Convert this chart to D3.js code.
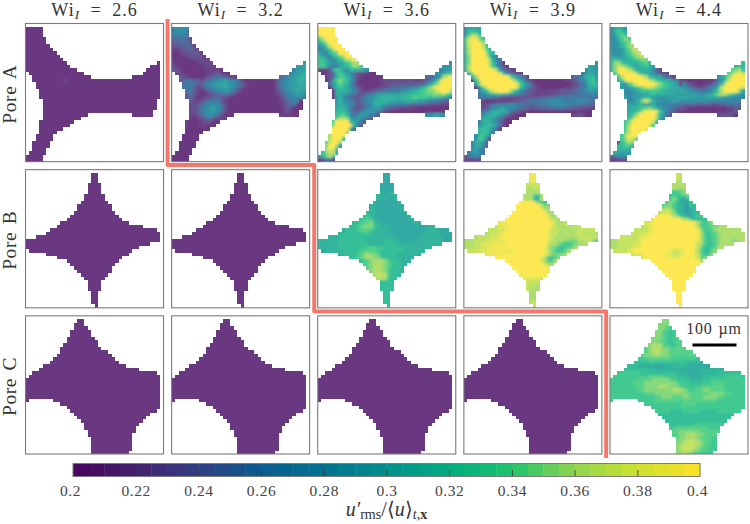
<!DOCTYPE html>
<html><head><meta charset="utf-8">
<script src="https://cdnjs.cloudflare.com/ajax/libs/d3/7.8.5/d3.min.js"></script>
<style>html,body{margin:0;padding:0;background:#fff}svg{display:block}text{font-family:"Liberation Serif",serif;fill:#333}</style>
</head><body><svg id="c" width="750" height="524"></svg>
<script>
const wiLabels=["2.6","3.2","3.6","3.9","4.4"];
const poreLabels=["Pore A","Pore B","Pore C"];
const cbTicks=[0.2,0.22,0.24,0.26,0.28,0.3,0.32,0.34,0.36,0.38,0.4];
const cmapStops=["#46045e","#45206f","#303f82","#0a5c8f","#00728f","#008f8c","#00ac80","#1fc46f","#90d44e","#cde02f","#fde228"];
const LEVELS="0123456789abcdefghijk"; // 0.20 ... 0.40 in steps of 0.01

// Pore outlines: per row, flat [start,end) pairs of occupied cells
const maskA=[[],[0,5],[0,5],[0,5],[0,6],[0,6],[0,7],[0,8],[0,9],[0,10],[0,11],[0,12,38,39],[0,13,36,39],[0,15,35,39],[1,17,34,39],[2,19,31,39],[2,39],[3,39],[3,39],[4,39],[4,39],[4,39],[5,38],[5,38],[5,38],[5,37],[5,18,31,37],[5,16],[4,14],[4,13],[4,11],[4,9],[3,8],[3,8],[2,7],[2,7],[2,6],[1,6],[0,5],[0,5]];
const maskB=[[],[19,21],[19,21],[19,21],[18,22],[18,22],[18,22],[17,23],[17,23],[16,24],[15,25],[15,25],[14,26],[13,27],[12,28],[10,30],[9,34],[7,38],[6,39],[3,39],[0,39],[0,36],[0,33],[1,31],[6,30],[9,28],[12,27],[13,26],[14,25],[15,25],[16,24],[17,23],[18,22],[18,22],[18,22],[19,21],[19,21],[19,21],[19,21],[20,21]];
const maskC=[[],[15,17],[14,17],[14,18],[13,19],[13,19],[12,20],[12,21],[11,21],[10,22],[10,24],[9,25],[8,26],[7,27],[5,29],[4,33],[2,38],[1,39],[0,39],[0,39],[0,39],[0,39],[0,39],[0,39],[0,1,8,39],[10,39],[12,39],[13,38],[14,36],[15,35],[16,34],[17,33],[17,32],[18,32],[18,31],[19,31],[19,31],[19,31],[19,31],[19,30]];

// Measured fields, rows of level characters ("left|right" = right part ends at the last column)
const A26=["","","","","","","","","","","","","","","","","0000000000020"];
const A32=["","78887","68886","67775","445542","344443","2334441","11233431","001223331","0001122320","00000111221","100000011122|9","2100000001111|99a","32100000001111|799a","0221000000112310|789ab","0032100001234554210|45789abb","00345544235678998764|2000000000356899abb","000466533578999a9875|3100000000367899aaa","000556422467899a9864|2100000000256899aaa","00045631013567888642|0000000000245789a99","00003531001234454310|0000000000134678998","00003420012344321000|0000000000013567886","00002321235665310000|0000000000012456600","00002222467887521000|0000000000001346000","00004223578998630000|0000000000001330000","00005223578997520000|0000000000000200000","0000411246887520|0000000000011110000","00002101135421","0000100012210","000010001100"];
const A36=["","kkkkj","kkkkkh","hkkkkkg","dgkkkkk","bdgkkkkg","8adhkkkkg","68adgkkkkg","a86beekkkkf","ca86bcegkkkf","dca87bceghkg","cdb987abdegge|8","ddb8669bcdffeb|989","1113adc98bbba98|7899","00124bdc975211000|899cd","00135bddb9521000001|44579ghk","0002bdfec96100000012|22222222112358bhkkk","00059cecb84100000012|2233333333469cfjkkk","00008bcca86320000112|3444555679bdfikkkkj","00000abba97421123455|6667889abcdeffhjkkg","00000ab98653246789aa|aaaaabbccddeefffgec","000009a8643245789abb|bbbbbccdedddcccba97","000009b976534678abbb|aaa9aabaa9987655432","000009ba97623568aba9|8776665444332221111","00000abb964235689975|4322111100000000000","00000bcca64368898642|1000000000000000000","00000cdec85799865310|00000000000889a9800","00000dghfa8a865310","0000ekkkkca86210","0000fkkkkkb6310","000ekkkkkb510","000fkkkkg930","000gkkkjc61","00dgkkjc50","00eikkg81","0dfjkg92","0cgjhc61","0cfghb7","8cegb7","1264210"];
const A39=["","8aaa9","8cdca8","9ehgdb8","dhkjfdb","dhkkjgca","chkkkhdb","cgkkkjeb","cgkkkkgc","bfkkkkhd8","bfkkkkkgb6","cfkkkkkgc85|8","cgkkkkkhd953|a98","bgkkkkkkjg9532110|8a98","0bfkkkkkkkic8531110|78a98","00bfkkkkkkkkkfb9741100|3568bbc9","000cgkkkkkkkkkgca631|0000000001124579cd9","0009fkkkkkkkkkkhda85|1000000000012458bcb","00006dhkkkkkkkkhc964|3100000001123468aaa","00047acfhjkkjgda8643|2111112233344568998","00035689abba98765432|1111222333444556676","00004766543221112223|3344455666666555555","00005100011112233445|5566788876667887655","00004123556678765544|5555678887766654432","00003235789a87755432|3344445554433222211","00003568abbb96432110|0000000000000000000","000048aabb974210|0000000000012320000","00006aba97530","00007abb98420","00007abcb8520","0007bccb8510","0006bcca630","0008cdb830","0008dc730","008bb830","007aa840","06998520","0689863","356764","11221"];
const A44=["","79ca8","8bdca","79ceda","88bdfe","888cefec","889bdfgd","8889ceghc","9889bdfghb","a999bcdfgha","bcaaabcdeffa","bfgdcbbbcdec9|c","bfhhfdbabbcb94|bcb","cfjkjhfcabba8421|efgc","0dgkkkkhdbaa86321|efijh","00cgkkkkkigcbaa7531|8acfjkkk","00bdhkkkkkkhfdcbba85|2100000000258chkkkk","00099dfikkkkkhfdcba9|74210011258chkkkkk","000979bcefhhgfedcbaa|98653223568chkkkkjh","0000878abccdddcbbaaa|aa98765568aegkkkjf9","000087899aabcbbbaaa9|99999989abdfggeca88","000097899abc9888999a|aaaa9999aaaa9988887","00008789bfhfb9888999|8888888887777766665","00009a9aba98a8776655|5444433332233455544","00009abbcdefdb987653|3210000000000011332","00000abcegjkkid97431|1000000000000012331","00000bcfjkkkkgb8531|0000000000023232000","00000cfjkkkkkga730","0000dfjkkkkkha50","0000dgkkkkkhea40","0000dhkkkkjeb60","0000ehkkkhdb50","000dgjkkheb30","000dfihfca50","000cegfca7","00bcddb97","0abbba85","0aa9a97","457864","11222"];
const B26=[],B32=[];
const B36=["","0000000000000000000aa","0000000000000000000aa","0000000000000000000aa","000000000000000000aaaa","000000000000000000aaaa","000000000000000000baab","00000000000000000bbaabb","00000000000000000baaaab","0000000000000000baaaaaab","000000000000000bbaaaaaaab","000000000000000bbaaaaaaab","00000000000000cbbaaaaaaaab","0000000000000cdcbaaaaaaaaab","000000000000cdedbaaaaaaaaabb","0000000000ccdeefcbaaaaaaaaabbb","000000000ccdefffdcbbbbaaaaaaaaaabb","0000000bcccdeeedcbbbbaaaaaaaaaabbbbaaa","000000bbcccccddcbbbbbaaaaaaaaaabbbbaaa","000bbbcccccccccbbbbbbbaaaaaaaabbbbbbaaa","bbbbbbccccccccbbbbbcccbbaaaaabbbbbbbaaa","bbbbbbcccccccccbbbbccccbbbbbbbbbbbbb","abbbbbcccccccddeeddccccccbbbbbbbbbb","0abbbbbcccccdeeeedcccccccbbbbb","000000bbcccdefgffecccccbbbbbb","000000000ccdefggffdcccbbbbb","000000000000cdefgggfecccbbb","0000000000000defgggfedccbb","00000000000000efgggfecccbc","000000000000000fgggfdcccb","0000000000000000ghhgeccb","00000000000000000gggcc","000000000000000000ccccc","000000000000000000cccc","000000000000000000cccc","0000000000000000000cc","0000000000000000000cc","0000000000000000000cc","0000000000000000000cc","0000000000000000000cc"];
const B39=["","0000000000000000000jj","0000000000000000000jj","0000000000000000000jj","000000000000000000hhhh","000000000000000000gghh","000000000000000000gggg","00000000000000000gggdcg","00000000000000000hggcbg","0000000000000000kkkkjfdc","000000000000000kkkkkkkhff","000000000000000kkkkkkkjgg","00000000000000kkkkkkkkkkgg","0000000000000kkkkkkkkkkkigg","000000000000kkkkkkkkkkkkkhgg","0000000000jjkkkkkkkkkkkkkjhgghg","000000000hiijkkkkkkkkkkkkihggggghh","0000000hhhiijkkkkkkkkkkkkhhhggggghhhh","000000ghhhijkkkkkkkkkkkkjhhggggghhhgggg","000ghhhhiijkkkkkkkkkkkkkjhggggggghhhhhh","ggghhhhiiiijjkkkkkkkkkkkihgggffefgghhfe","ggghhiiijjjjkkkkkkkkkkkkhggfeddefgg","gghhhiiijjjjjkkkkkkkkkkjgfedcdefg","0hhhiiijjjjjjijkkkkkkkkjhfecdegg","000000ijjjjkkkkkkkkkkkkjhfeffg","000000000kkkkkkkkkkkkkjgdcefg","000000000000kkkkkkkkkkigdegg","0000000000000kkkkkkkkkkigghg","00000000000000kkkkkkkkkkjig","000000000000000kkkkkkkkkji","0000000000000000jkkkkkkji","00000000000000000jiiiihh","000000000000000000hhhhh","000000000000000000hhhg","000000000000000000hggg","0000000000000000000gg","0000000000000000000gg","0000000000000000000gg","0000000000000000000hh","0000000000000000000hh"];
const B44=["","0000000000000000000hh","0000000000000000000hh","0000000000000000000gg","000000000000000000gghg","000000000000000000ggfg","000000000000000000ddef","00000000000000000ddddef","00000000000000000dfdbac","0000000000000000efecba9d","000000000000000effdcba9c","000000000000000ghgecba9ab","00000000000000hiihfcba9ac","0000000000000jkkkjhgecbacd","000000000000jkkkkkkkjhgecc","0000000000iijkkkkkkkkkkkjgedef","000000000hhijkkkkkkkkkkkjgdddeffgg","0000000hhhhijkkkkkkkkkkkkjfddefgggggg","000000hhhhijkkkkkkkkkkkkkjgdcdefgggggg","000hhhhhijjkkkkkkkkkkkkkkjgecdefggggggg","gghhhhhhijkkkkkkkkkkkkkkkjgecdefgggffgg","gghhhhhiikkkkkkkkkkkkkkkjhgdccefggg","gghhhhiijkkkkkkkkkkkkkkkjheccdegg","0hhhhijkkkkkkkkkjjhhijkkjgeccefg","000000hiijkkkkkkjihhijkkjhecdf","000000000ijkkkkkjjiijkkkjhef","000000000000kkkkkkkkkkkkkkgg","0000000000000kkkkkkkkkkkkkjh","00000000000000kkkkkkkkkkkkj","000000000000000kkkkkkkkkkk","0000000000000000kkkkkkkkk","00000000000000000kkkkkkk","000000000000000000kkkkk","000000000000000000kkkkk","000000000000000000kkkk","0000000000000000000kk","0000000000000000000kk","0000000000000000000kk","0000000000000000000kk","0000000000000000000kk"];
const C26=[],C32=[],C36=[],C39=[];
const C44=["","000000000000000ff","00000000000000fffe","00000000000000ffed","0000000000000ffedcd","0000000000000ffedcd","000000000000fffedcde","000000000000ffeedcde","00000000000fgggeddce","0000000000efgggffeee","0000000000efghgffeeeee","000000000efffgfffeeedeee","00000000dddeeeeeeeddddddd","0000000cccccdccccccccccbbbb","00000cccbbbaaaaabbbbccbbbaaaa","0000cccccccccbbbbbbbaaaabbbbbbbbb","00dddddddccccccccccbbbbaaabbbbbcccccccc","0ddddddddddeeeeedddcccbbbbbccccccdddddc","ddddddddeeeefffffeddcccbbbcccddddddddd","dddddddeeefffffffffedddccccdddeeeddddd","dddddddeeeffffgggfffedddddeeeeeeedddd","ddddddddeeffffffffgggfeddeeffeeeedddd","ddddddddddeeeffffffffffeeeeeeffffeeddd","dddddddddddddeefffeeeffeeeeffffeedddd","d0000000dddddeeeeeeedeeeeeeeeeedddddd","0000000000dddddddddddeeeedddddddddddddd","000000000000dddddddddddddddddddddddddd","0000000000000ddddccccdddddcccccdddddd","00000000000000ccccccccccccccccccccc","000000000000000ccccccccccccccccc","0000000000000000ccccccccccccccc","00000000000000000cccccccdddddd","00000000000000000ddeeeeeeeeeddd","000000000000000000eeffffffeeee","000000000000000000eeffgggffeee","0000000000000000000effgggfeeed","0000000000000000000ffghhggfeedd","0000000000000000000fghhhhgfedd","0000000000000000000fghhhgfeedd","0000000000000000000fgggfeedd"];

const masks=[maskA,maskB,maskC];
const fields=[[A26,A32,A36,A39,A44],[B26,B32,B36,B39,B44],[C26,C32,C36,C39,C44]];
const NCELL=40;

function decodeRow(s){
  s=s||"";
  if(s.includes("|")){const [l,r]=s.split("|");s=l.padEnd(39,"0").slice(0,39-r.length)+r;}
  return s;
}
const cells=[];
fields.forEach((rowF,pi)=>rowF.forEach((f,wi)=>{
  masks[pi].forEach((sp,r)=>{
    const row=decodeRow(f[r]);
    for(let k=0;k<sp.length;k+=2)for(let c=sp[k];c<sp[k+1];c++){
      const ch=row[c]||row[row.length-1]||"0";
      cells.push({pi,wi,r,c,v:0.2+LEVELS.indexOf(ch)*0.01});
    }
  });
}));

const svg=d3.select("#c");
const fx=d3.scaleBand().domain(d3.range(wiLabels.length)).range([25.5,748]).paddingInner(8.1/146.1);
const fy=d3.scaleBand().domain(d3.range(poreLabels.length)).range([23.5,454]).paddingInner(8/146);
const cx=d3.scaleBand().domain(d3.range(NCELL)).range([0,fx.bandwidth()]);
const cy=d3.scaleBand().domain(d3.range(NCELL)).range([0,fy.bandwidth()]);
const val=d3.scaleLinear().domain([0.2,0.4]).range([73,700]);
const colorC=d3.scaleLinear().domain(cbTicks).range(cmapStops).clamp(true);
const q=v=>colorC(Math.min(0.3975,Math.floor(v/0.005+1e-6)*0.005)+0.0025);
const tint=v=>{const c=d3.rgb(q(v)),a=0.8;return d3.rgb(c.r*a+255*(1-a),c.g*a+255*(1-a),c.b*a+255*(1-a)).formatHex();};

const defs=svg.append("defs");
const addBlur=(id,s)=>defs.append("filter").attr("id",id).attr("x","-2%").attr("y","-2%").attr("width","104%").attr("height","104%")
  .append("feGaussianBlur").attr("stdDeviation",s);
addBlur("soft",0.4);addBlur("smooth",1.3);
const place=sel=>sel.attr("x",d=>fx(d.wi)+cx(d.c)).attr("y",d=>fy(d.pi)+cy(d.r))
  .attr("width",cx.bandwidth()).attr("height",cy.bandwidth()).attr("shape-rendering","crispEdges");
defs.append("clipPath").attr("id","poreClip").selectAll("rect").data(cells).join("rect").call(place);

const heat=svg.append("g").attr("filter","url(#soft)");
heat.append("g").selectAll("rect").data(cells).join("rect").call(place).attr("fill",d=>tint(d.v));
heat.append("g").attr("clip-path","url(#poreClip)").append("g").attr("filter","url(#smooth)")
  .selectAll("rect").data(cells.filter(d=>fields[d.pi][d.wi].length>0)).join("rect").call(place).attr("fill",d=>tint(d.v));

// frames
poreLabels.forEach((p,pi)=>wiLabels.forEach((w,wi)=>{
  svg.append("rect").attr("x",fx(wi)).attr("y",fy(pi)).attr("width",fx.bandwidth()).attr("height",fy.bandwidth())
    .attr("fill","none").attr("stroke","#7a7a7a").attr("stroke-width",1.1);
}));

// titles
wiLabels.forEach((w,wi)=>{
  const t=svg.append("text").attr("x",fx(wi)+fx.bandwidth()/2).attr("y",16).attr("text-anchor","middle")
    .attr("font-size",18).attr("letter-spacing",1).attr("word-spacing",5).attr("xml:space","preserve");
  t.append("tspan").text("Wi");
  t.append("tspan").attr("font-style","italic").attr("font-size",13).attr("dy",3).text("I");
  t.append("tspan").attr("dy",-3).text(" = "+w);
});
poreLabels.forEach((p,pi)=>{
  svg.append("text").attr("transform",`translate(16,${fy(pi)+fy.bandwidth()/2+1.5}) rotate(-90)`).attr("text-anchor","middle")
    .attr("font-size",19.5).attr("letter-spacing",0.6).attr("word-spacing",2).text(p);
});

// highlight boundary
const by=[19,fy(0)+fy.bandwidth()+3.3,fy(1)+fy.bandwidth()+3.6,458];
const bx=[fx(1)-4,fx(2)-3.5,fx(4)-3.8];
const corner=[[bx[0],by[0]],[bx[0],by[1]],[bx[1],by[1]],[bx[1],by[2]],[bx[2],by[2]],[bx[2],by[3]]];
svg.append("path").attr("d",d3.line()(corner)).attr("fill","none").attr("stroke","#f3776a").attr("stroke-width",4).attr("stroke-linejoin","round");

// scale bar
svg.append("line").attr("x1",692.5).attr("x2",736.5).attr("y1",345).attr("y2",345).attr("stroke","#000").attr("stroke-width",3.2);
svg.append("text").attr("x",714).attr("y",334).attr("text-anchor","middle").attr("font-size",16).attr("letter-spacing",0.8).attr("word-spacing",1).text("100 µm");

// colourbar
const levels=d3.range(0,40).map(i=>0.2+i*0.005);
const cb=svg.append("g");
cb.selectAll("rect").data(levels).join("rect").attr("x",d=>val(d)).attr("y",463.5).attr("width",val(0.205)-val(0.2)+0.4).attr("height",13)
  .attr("fill",d=>colorC(d+0.0025));
cb.append("rect").attr("x",73).attr("y",463.5).attr("width",627).attr("height",13).attr("fill","none").attr("stroke","#7a7a7a").attr("stroke-width",1);
const ax=d3.axisBottom(val).tickValues(cbTicks).tickFormat(d=>String(+d.toFixed(2))).tickSize(0).tickPadding(0);
const axg=svg.append("g").attr("transform","translate(0,476)").call(ax);
axg.select(".domain").remove();
axg.selectAll("text").attr("y",20).attr("dy",0).attr("font-size",15.5).attr("letter-spacing",0.6)
  .attr("x",(d,i)=>i===0?-3:i===10?-3:0)
  .style("font-family",'"Liberation Serif",serif').style("fill","#444");
axg.selectAll(".tick line").attr("y1",-6).attr("y2",0).attr("stroke","#333").attr("stroke-width",0.8);
axg.selectAll(".tick").filter((d,i)=>i===0||i===10).select("line").remove();

// colourbar label
const lab=svg.append("text").attr("x",386.5).attr("y",516).attr("text-anchor","middle").attr("font-size",20);
lab.append("tspan").attr("font-style","italic").text("u′");
lab.append("tspan").attr("font-size",14).attr("dy",3).text("rms");
lab.append("tspan").attr("dy",-3).text("/⟨");
lab.append("tspan").attr("font-style","italic").text("u");
lab.append("tspan").text("⟩");
lab.append("tspan").attr("font-style","italic").attr("font-size",14).attr("dy",3).text("t");
lab.append("tspan").attr("font-size",14).text(",");
lab.append("tspan").attr("font-size",14).attr("font-weight","bold").text("x");
</script></body></html>
